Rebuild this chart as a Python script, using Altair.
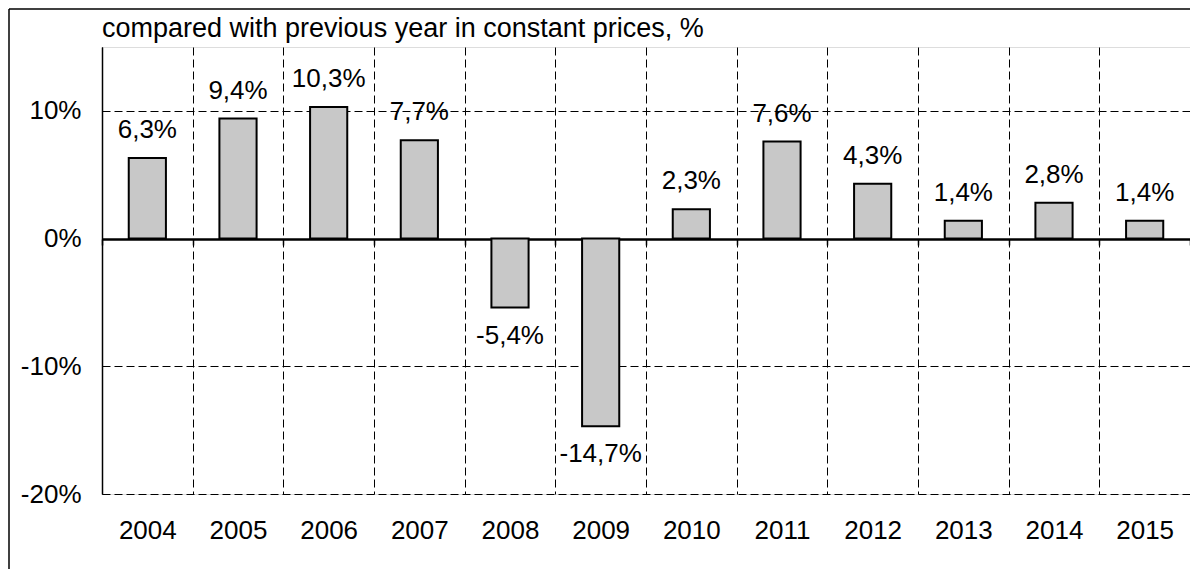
import altair as alt
import pandas as pd

years = ["2004", "2005", "2006", "2007", "2008", "2009", "2010", "2011", "2012", "2013", "2014", "2015"]
values = [6.3, 9.4, 10.3, 7.7, -5.4, -14.7, 2.3, 7.6, 4.3, 1.4, 2.8, 1.4]
labels = [f"{v:.1f}".replace(".", ",") + "%" for v in values]
title_text = "compared with previous year in constant prices, %"
y_ticks = [-20, -10, 0, 10]

df = pd.DataFrame({"year": years, "v": values, "lab": labels})

FONT = "Liberation Sans"
FS = 26
W, H = 1088, 447

xscale = alt.Scale(paddingInner=0, paddingOuter=0)
yscale = alt.Scale(domain=[-20, 15], nice=False)

base = alt.Chart(df)

bars = base.mark_bar(width={"band": 0.41}, fill="#c8c8c8", stroke="black", strokeWidth=2).encode(
    x=alt.X("year:N", scale=xscale, sort=years,
            axis=alt.Axis(title=None, orient="bottom", tickBand="extent", grid=True,
                          gridDash=[8, 4], gridColor="black", gridWidth=1,
                          ticks=False, domain=False, labelAngle=0, labelPadding=23,
                          labelFont=FONT, labelFontSize=FS, labelColor="black")),
    y=alt.Y("v:Q", scale=yscale,
            axis=alt.Axis(title=None, values=y_ticks, labelExpr="datum.value + '%'",
                          grid=True, gridDash=[8, 4], gridColor="black", gridWidth=1,
                          ticks=False, domain=True, domainColor="black", domainWidth=1.5,
                          labelPadding=21, labelFont=FONT, labelFontSize=FS, labelColor="black")),
)

text_pos = base.transform_filter("datum.v >= 0").mark_text(
    font=FONT, fontSize=FS, color="black", baseline="middle", dy=-28).encode(
    x=alt.X("year:N", scale=xscale, sort=years,
            axis=alt.Axis(title=None, orient="bottom", offset=-255, tickBand="extent",
                          grid=False, labels=False, ticks=True, tickSize=6, tickColor="black",
                          tickWidth=1.5, domain=True, domainColor="black", domainWidth=2.5)),
    y=alt.Y("v:Q", scale=yscale),
    text="lab:N",
)

text_neg = base.transform_filter("datum.v < 0").mark_text(
    font=FONT, fontSize=FS, color="black", baseline="middle", dy=28).encode(
    x=alt.X("year:N", scale=xscale, sort=years, axis=None),
    y=alt.Y("v:Q", scale=yscale),
    text="lab:N",
)

title = alt.Chart(pd.DataFrame({"t": [title_text]})).mark_text(
    font=FONT, fontSize=27, color="black", align="left", baseline="alphabetic"
).encode(text="t:N", x=alt.value(0), y=alt.value(-10))

frame_left = alt.Chart(pd.DataFrame({"t": [0]})).mark_rule(color="black", strokeWidth=1.5).encode(
    x=alt.value(-93), y=alt.value(-38), y2=alt.value(530))
frame_top = alt.Chart(pd.DataFrame({"t": [0]})).mark_rule(color="black", strokeWidth=1.5).encode(
    x=alt.value(-93), x2=alt.value(1100), y=alt.value(-38))

chart = alt.layer(bars, text_pos, text_neg, title, frame_left, frame_top).resolve_axis(x="independent").properties(
    width=W, height=H,
    autosize=alt.AutoSizeParams(type="none"),
    padding={"left": 94, "top": 39, "right": 0, "bottom": 75},
).configure_view(stroke="black", strokeWidth=1.5).configure(background="white")

chart.save("out.html", embed_options={"renderer": "svg", "actions": False})
